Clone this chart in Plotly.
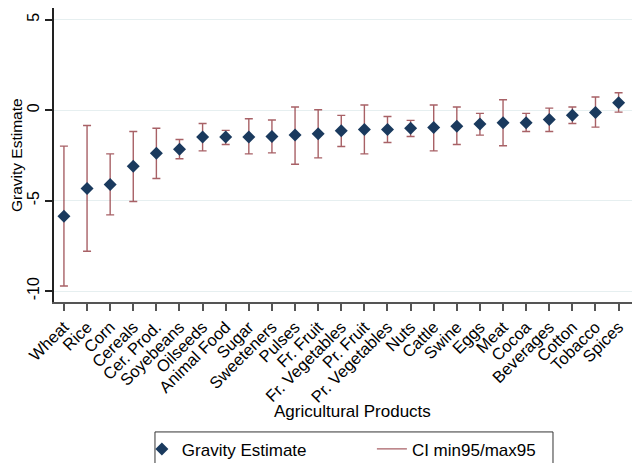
import plotly.graph_objects as go

products = ["Wheat", "Rice", "Corn", "Cereals", "Cer. Prod.", "Soyebeans", "Oilseeds",
            "Animal Food", "Sugar", "Sweeteners", "Pulses", "Fr. Fruit", "Fr. Vegetables",
            "Pr. Fruit", "Pr. Vegetables", "Nuts", "Cattle", "Swine", "Eggs", "Meat",
            "Cocoa", "Beverages", "Cotton", "Tobacco", "Spices"]
estimate = [-5.87, -4.33, -4.11, -3.10, -2.38, -2.16, -1.49, -1.49, -1.48, -1.46,
            -1.38, -1.31, -1.14, -1.07, -1.07, -1.00, -0.96, -0.89, -0.77, -0.70,
            -0.70, -0.52, -0.28, -0.13, 0.40]
ci_max = [-1.99, -0.85, -2.42, -1.18, -1.00, -1.62, -0.74, -1.12, -0.48, -0.55,
          0.17, 0.02, -0.29, 0.28, -0.35, -0.57, 0.28, 0.17, -0.18, 0.57,
          -0.18, 0.11, 0.17, 0.72, 0.96]
ci_min = [-9.72, -7.80, -5.79, -5.05, -3.78, -2.69, -2.25, -1.90, -2.42, -2.36,
          -2.99, -2.64, -2.01, -2.42, -1.79, -1.46, -2.25, -1.90, -1.38, -1.97,
          -1.18, -1.18, -0.74, -0.94, -0.11]
y_ticks = [-10, -5, 0, 5]

x_idx = list(range(len(products)))
err_plus = [hi - e for hi, e in zip(ci_max, estimate)]
err_minus = [e - lo for e, lo in zip(estimate, ci_min)]

CI_COLOR = "rgba(144,53,59,0.78)"
NAVY = "#1a3a5e"
FONT = "Liberation Sans, Arial, sans-serif"

fig = go.Figure()

fig.add_trace(go.Scatter(
    x=x_idx, y=estimate, mode="markers",
    marker=dict(size=1, opacity=0),
    error_y=dict(type="data", symmetric=False, array=err_plus, arrayminus=err_minus,
                 color=CI_COLOR, thickness=1.4, width=4),
    showlegend=False, hoverinfo="skip",
))

fig.add_trace(go.Scatter(
    x=x_idx, y=estimate, mode="markers", name="Gravity Estimate",
    marker=dict(symbol="diamond", size=10, color=NAVY), legend="legend",
))

fig.add_trace(go.Scatter(
    x=[None], y=[None], mode="lines", name="CI min95/max95",
    line=dict(color=CI_COLOR, width=1.4), legend="legend2",
))

legend_common = dict(orientation="h", xanchor="left", y=-0.44, yanchor="top",
                     borderwidth=0, bgcolor="rgba(0,0,0,0)", font=dict(size=17))

fig.update_layout(
    width=635, height=463,
    margin=dict(l=54, r=3, t=8, b=161, autoexpand=False),
    paper_bgcolor="white", plot_bgcolor="white",
    font=dict(family=FONT, size=16, color="black"),
    legend=dict(x=0.152, **legend_common),
    legend2=dict(x=0.55, **legend_common),
    shapes=[dict(type="rect", xref="paper", yref="paper",
                 x0=0.1747, x1=0.8633, y0=-0.442, y1=-0.60,
                 line=dict(color="#333", width=1), fillcolor="rgba(0,0,0,0)",
                 layer="below")],
    annotations=[
        dict(text="Agricultural Products", xref="paper", yref="paper",
             x=0.516, y=-0.374, xanchor="center", yanchor="middle",
             showarrow=False, font=dict(size=17)),
        dict(text="Gravity Estimate", xref="paper", yref="paper",
             x=-0.0657, y=0.5, xanchor="center", yanchor="middle", textangle=-90,
             showarrow=False, font=dict(size=15.5)),
    ],
)

fig.update_xaxes(
    range=[-0.43, 24.58], automargin=False,
    tickmode="array", tickvals=x_idx, ticktext=products,
    tickangle=-45, ticks="outside", ticklen=7, tickcolor="#555", tickwidth=1.5,
    showline=True, linecolor="#555", linewidth=2,
    showgrid=False, zeroline=False, tickfont=dict(size=16.5),
)

fig.update_yaxes(
    range=[-10.6, 5.64], automargin=False,
    tickmode="array", tickvals=y_ticks, ticktext=[str(t) for t in y_ticks],
    tickangle=-90, ticks="outside", ticklen=7, tickcolor="#222", tickwidth=1.5,
    showline=True, linecolor="#222", linewidth=1.5,
    showgrid=True, gridcolor="#e6eff0", gridwidth=1, zeroline=False,
    tickfont=dict(size=16),
)

fig.write_html("out.html", config={"displayModeBar": False},
               post_script="document.body.style.margin='0';document.body.style.padding='0';"
                           "document.body.style.overflow='hidden';"
                           "document.documentElement.style.overflow='hidden';")
